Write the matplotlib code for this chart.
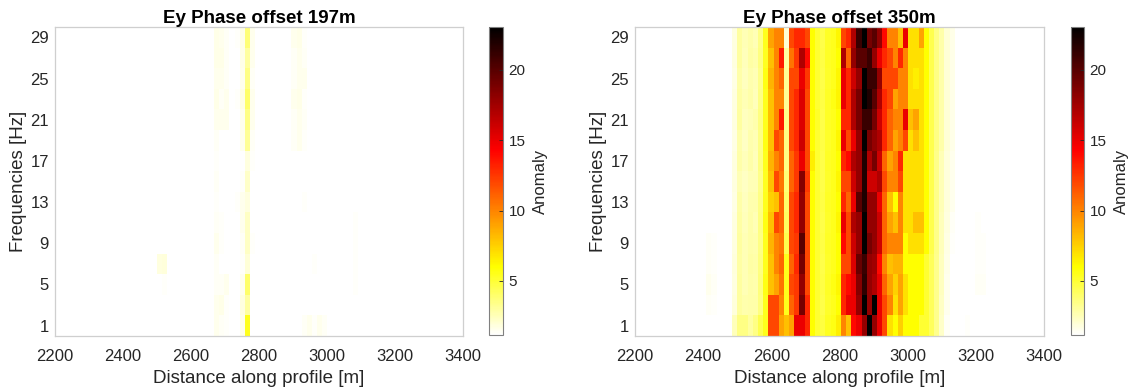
import numpy as np
import matplotlib
matplotlib.use('Agg')
import matplotlib.pyplot as plt
from matplotlib.colors import LinearSegmentedColormap

plt.rcParams['font.family'] = ['Liberation Sans', 'DejaVu Sans']

# profile stations (80 columns along the profile) and frequency rows
n_stations = 80
first_station, last_station = 2204, 3404
freqs = [29, 27, 25, 23, 21, 19, 17, 15, 13, 11, 9, 7, 5, 3, 1]
background = 1.0
vmin, vmax = 1.15, 23.05

# ---- offset 350 m : block of columns 19..61, rows listed top (29 Hz) to bottom (1 Hz)
right_first_col = 19
right_block = [
    # 29 Hz
    [1.8, 3.0, 2.6, 2.8, 2.6, 3.5, 5.5, 9, 10, 10, 2.0, 12, 13, 13, 12, 6, 5.0, 4.6, 5.3, 5.5, 6.2,
     12, 13, 17, 21, 23, 19, 20, 18, 14, 10, 10, 8, 15, 7, 7, 9, 6, 4.5, 3.5, 2.8, 2.0, 1.6],
    # 27
    [1.8, 3.0, 2.5, 2.9, 2.7, 3.6, 5.4, 8, 10, 13.5, 3.0, 10.5, 12.5, 17, 14, 6, 5.0, 4.7, 5.3, 5.5, 6.0,
     17, 11, 18, 20, 20, 21, 18, 15, 13, 12, 10, 13, 10, 7, 7, 7, 6, 4.5, 3.5, 2.8, 2.0, 1.6],
    # 25
    [1.7, 2.8, 2.4, 2.7, 2.6, 3.4, 5.6, 8.5, 10, 11, 3.2, 12, 12, 15, 12.5, 6, 5.0, 4.6, 5.2, 5.5, 6.2,
     15, 13, 16, 18, 23, 21, 21, 18, 12, 12, 12, 10, 10, 7, 6.5, 7, 6, 4.5, 3.5, 2.8, 2.0, 1.6],
    # 23
    [1.8, 2.9, 2.6, 2.8, 2.5, 3.5, 5.5, 8, 10, 10, 3.2, 12, 13, 15.5, 12, 6, 5.0, 4.7, 5.3, 5.6, 6.3,
     15, 13, 17, 19, 23, 22, 20, 17, 13, 12, 9, 10, 10, 7, 7, 7, 6, 4.5, 3.5, 2.8, 2.0, 1.6],
    # 21
    [1.8, 3.0, 2.4, 2.6, 2.7, 3.6, 5.5, 8, 10, 13.5, 3.3, 12, 13, 15.5, 12, 6, 5.2, 4.6, 5.3, 5.5, 6.0,
     13, 13, 17, 19, 21, 21, 19, 16, 13, 11, 10, 10, 15, 8, 9, 7, 6, 4.5, 3.5, 2.8, 2.0, 1.6],
    # 19
    [1.7, 2.7, 2.3, 2.7, 2.6, 3.5, 5.6, 8, 12, 11, 3.5, 12, 13, 16, 12, 6, 5.0, 4.7, 5.2, 5.5, 6.2,
     15, 12, 15, 18, 23, 19, 18, 17, 13, 11, 9, 10, 12, 7, 8, 7, 6, 4.5, 3.5, 2.8, 2.0, 1.6],
    # 17
    [1.8, 2.8, 2.5, 2.8, 2.5, 3.6, 5.5, 8.5, 10, 11, 3.5, 11, 12.5, 15, 12, 6.5, 5.0, 4.6, 5.3, 5.5, 6.0,
     13, 14, 17, 18, 22, 17, 19, 16, 11, 9, 10, 13, 7, 7, 7, 7, 6, 4.5, 3.4, 2.6, 1.9, 1.5],
    # 15
    [1.8, 2.6, 2.3, 2.6, 2.6, 3.4, 5.4, 8, 12, 10.5, 3.8, 11, 12.5, 18.5, 12.5, 6, 5.0, 4.6, 5.2, 5.5, 6.2,
     12, 12, 16, 18, 22, 16, 16, 17, 12, 10, 10, 12, 7, 7, 7, 7, 6, 4.5, 3.4, 2.6, 1.9, 1.5],
    # 13
    [1.7, 2.8, 2.4, 2.7, 2.7, 3.5, 5.5, 7.5, 8, 11, 4.0, 12, 13, 18, 12, 6, 5.0, 4.7, 5.3, 5.5, 6.0,
     13, 11, 15, 20, 22, 18, 18, 15, 11, 8, 6, 10, 7, 7, 7, 7, 6, 4.5, 3.4, 2.6, 1.9, 1.5],
    # 11
    [1.8, 2.9, 2.5, 2.8, 2.6, 3.6, 5.6, 8, 12, 11, 4.2, 12, 13, 18, 12, 6, 5.0, 4.6, 5.2, 5.5, 6.2,
     15, 12, 17, 18, 23, 18, 18, 16, 11, 9, 8, 10, 7, 7, 8, 8, 6, 4.5, 3.4, 2.5, 1.8, 1.4],
    # 9
    [1.8, 3.0, 2.6, 2.8, 2.7, 3.5, 5.5, 8.5, 10, 10.5, 4.5, 12, 12.5, 20, 12, 6, 5.0, 4.7, 5.3, 5.5, 6.0,
     14, 12, 16, 18, 23, 19, 18, 16, 11, 10, 10, 10, 6, 7, 7, 7, 6, 4.5, 3.4, 2.5, 1.7, 1.3],
    # 7
    [1.9, 2.9, 2.6, 2.9, 2.8, 3.6, 5.5, 8, 10, 11, 5.5, 11, 13, 19, 12, 6, 5.0, 4.6, 5.2, 5.5, 6.0,
     12, 12, 15.5, 19.5, 21, 18, 17.5, 14, 10, 8, 8.5, 8.5, 6, 6, 6, 6, 5, 4.3, 3.3, 2.4, 1.6, 1.2],
    # 5
    [1.8, 3.0, 2.6, 2.8, 2.7, 3.7, 5.6, 8, 9, 10.5, 5.5, 12, 12.5, 18, 12, 6, 5.0, 4.7, 5.3, 5.6, 6.2,
     13, 14, 15, 18.5, 21.5, 18, 17, 15, 11, 9, 7.5, 9, 7, 6, 6, 6, 5, 4.3, 3.3, 2.4, 1.5, 1.2],
    # 3
    [1.9, 3.0, 2.7, 2.8, 2.8, 3.6, 5.5, 12, 12, 10, 5.5, 11, 12.5, 19, 13, 6, 5.0, 4.6, 5.2, 5.5, 6.0,
     13, 15, 15, 18, 23, 18, 23, 15, 12, 10, 7, 9, 7, 6, 6, 6, 5, 4.3, 3.3, 2.3, 1.5, 1.1],
    # 1
    [2.5, 3.5, 3.5, 3.0, 3.5, 4.5, 5.5, 12, 12, 9, 8.0, 9, 15, 15, 13, 6, 5.0, 4.8, 5.4, 5.6, 6.5,
     10, 8, 14, 15, 18, 23, 18, 15, 12, 7, 6, 7.5, 6, 6, 6, 5, 5, 4.3, 3.3, 2.2, 1.4, 1.1],
]
# isolated faint cells for offset 350 m: column, row (0 = 29 Hz), value
right_faint_cols = [14, 14, 14, 14, 15, 15, 15, 15, 64, 66, 66, 66, 66, 67, 67, 67]
right_faint_rows = [10, 11, 12, 13, 10, 11, 12, 13, 14, 9, 10, 11, 12, 10, 11, 12]
right_faint_vals = [1.4, 1.4, 1.5, 1.4, 1.3, 1.3, 1.4, 1.3, 1.3, 1.25, 1.3, 1.3, 1.4, 1.25, 1.3, 1.4]

# ---- offset 197 m : block of columns 30..52
left_first_col = 30
left_block = [
    [1.0, 1.6, 1.5, 1.4, 1.1, 1.3, 1.6, 3.8, 1.5, 1.0, 1.0, 1.0, 1.0, 1.0, 1.0, 1.0, 1.5, 1.6, 1.3, 1.0, 1.0, 1.0, 1.0],
    [1.0, 1.6, 1.6, 1.4, 1.1, 1.1, 1.6, 3.0, 1.5, 1.0, 1.0, 1.0, 1.0, 1.0, 1.0, 1.0, 1.4, 1.5, 1.4, 1.2, 1.0, 1.0, 1.0],
    [1.0, 1.5, 1.5, 1.4, 1.1, 1.1, 1.5, 3.5, 1.4, 1.0, 1.0, 1.0, 1.0, 1.0, 1.0, 1.0, 1.4, 1.5, 1.5, 1.2, 1.0, 1.0, 1.0],
    [1.0, 1.6, 1.4, 1.5, 1.1, 1.3, 1.7, 4.0, 1.5, 1.0, 1.0, 1.0, 1.0, 1.0, 1.0, 1.0, 1.5, 1.6, 1.3, 1.0, 1.0, 1.0, 1.0],
    [1.0, 1.5, 1.5, 1.5, 1.1, 1.1, 1.5, 3.5, 1.5, 1.0, 1.0, 1.0, 1.0, 1.0, 1.0, 1.0, 1.4, 1.5, 1.4, 1.0, 1.0, 1.0, 1.0],
    [1.0, 1.4, 1.2, 1.2, 1.1, 1.1, 1.5, 3.2, 1.4, 1.0, 1.0, 1.0, 1.0, 1.0, 1.0, 1.0, 1.4, 1.5, 1.3, 1.0, 1.0, 1.0, 1.0],
    [1.0, 1.3, 1.2, 1.1, 1.1, 1.1, 1.2, 1.8, 1.3, 1.0, 1.0, 1.0, 1.0, 1.0, 1.0, 1.0, 1.0, 1.0, 1.0, 1.0, 1.0, 1.0, 1.0],
    [1.0, 1.4, 1.2, 1.2, 1.1, 1.1, 1.3, 2.2, 1.2, 1.0, 1.0, 1.0, 1.0, 1.0, 1.0, 1.0, 1.0, 1.0, 1.0, 1.0, 1.0, 1.0, 1.0],
    [1.0, 1.3, 1.2, 1.1, 1.1, 1.3, 1.5, 1.8, 1.1, 1.0, 1.0, 1.0, 1.0, 1.0, 1.0, 1.0, 1.0, 1.2, 1.3, 1.0, 1.0, 1.0, 1.0],
    [1.0, 1.4, 1.3, 1.2, 1.1, 1.1, 1.5, 2.3, 1.1, 1.0, 1.0, 1.0, 1.0, 1.0, 1.0, 1.0, 1.0, 1.0, 1.0, 1.0, 1.0, 1.0, 1.0],
    [1.0, 1.5, 1.3, 1.2, 1.1, 1.1, 1.4, 2.3, 1.3, 1.0, 1.0, 1.0, 1.0, 1.0, 1.0, 1.0, 1.0, 1.0, 1.0, 1.0, 1.0, 1.0, 1.0],
    [1.0, 1.4, 1.2, 1.2, 1.1, 1.1, 1.3, 2.0, 1.1, 1.0, 1.0, 1.0, 1.0, 1.0, 1.0, 1.0, 1.0, 1.0, 1.0, 1.0, 1.3, 1.0, 1.0],
    [1.0, 1.4, 1.4, 1.5, 1.1, 1.1, 1.5, 4.0, 1.2, 1.0, 1.0, 1.0, 1.0, 1.0, 1.0, 1.0, 1.0, 1.0, 1.0, 1.0, 1.0, 1.0, 1.0],
    [1.0, 1.5, 1.6, 1.3, 1.1, 1.2, 1.8, 3.0, 1.2, 1.0, 1.0, 1.0, 1.0, 1.0, 1.0, 1.0, 1.0, 1.0, 1.0, 1.0, 1.0, 1.0, 1.0],
    [1.0, 1.5, 1.4, 1.3, 1.1, 1.2, 1.6, 5.5, 1.2, 1.0, 1.0, 1.0, 1.0, 1.0, 1.0, 1.0, 1.0, 1.0, 1.4, 1.5, 1.3, 1.5, 1.4],
]
left_faint_cols = [20, 21, 21, 58, 58, 58, 58]
left_faint_rows = [11, 11, 12, 9, 10, 11, 12]
left_faint_vals = [1.8, 1.9, 1.3, 1.25, 1.25, 1.3, 1.25]

titles = ['Ey Phase offset 197m', 'Ey Phase offset 350m']
x_ticks = [2200, 2400, 2600, 2800, 3000, 3200, 3400]
y_ticks = [1, 5, 9, 13, 17, 21, 25, 29]
cbar_ticks = [5, 10, 15, 20]


def build_grid(first_col, block, f_cols, f_rows, f_vals):
    grid = np.full((len(freqs), n_stations), background)
    block = np.array(block, dtype=float)
    grid[:, first_col:first_col + block.shape[1]] = block
    for c, r, v in zip(f_cols, f_rows, f_vals):
        grid[r, c] = v
    return grid


# white -> yellow -> red -> black, like a flipped "hot"
cmap = LinearSegmentedColormap.from_list(
    'hot_flip', [(0.0, '#ffffff'), (0.22, '#ffff00'), (0.60, '#ff0000'), (1.0, '#000000')])

grids = [
    build_grid(left_first_col, left_block, left_faint_cols, left_faint_rows, left_faint_vals),
    build_grid(right_first_col, right_block, right_faint_cols, right_faint_rows, right_faint_vals),
]
stations = np.linspace(first_station, last_station, n_stations)

W, H = 1132, 390
fig = plt.figure(figsize=(W / 100, H / 100), dpi=100)
ax_boxes = [(55, 27, 463, 336), (635, 27, 1044, 336)]
cb_boxes = [(489, 27, 503, 335), (1071, 27, 1084, 335)]
text_color = '#262626'

for i in range(2):
    x0, y0, x1, y1 = ax_boxes[i]
    ax = fig.add_axes([x0 / W, 1 - y1 / H, (x1 - x0) / W, (y1 - y0) / H])
    mesh = ax.pcolormesh(stations, freqs, grids[i], cmap=cmap, vmin=vmin, vmax=vmax,
                         shading='nearest')
    ax.set_xlim(2200, 3400)
    ax.set_ylim(0, 30)
    ax.set_xticks(x_ticks)
    ax.set_yticks(y_ticks)
    ax.tick_params(length=0, labelsize=12, colors=text_color)
    ax.tick_params(axis='x', pad=9.5)
    ax.tick_params(axis='y', pad=4.5)
    for s in ax.spines.values():
        s.set_color('#cfcfcf')
        s.set_linewidth(0.9)
    ax.set_xlabel('Distance along profile [m]', fontsize=13.5, color=text_color, labelpad=4)
    ax.set_ylabel('Frequencies [Hz]', fontsize=13.5, color=text_color, labelpad=2)
    ax.set_title(titles[i], fontsize=13.5, fontweight='bold', color='black', pad=3)

    cx0, cy0, cx1, cy1 = cb_boxes[i]
    cax = fig.add_axes([cx0 / W, 1 - cy1 / H, (cx1 - cx0) / W, (cy1 - cy0) / H])
    cb = fig.colorbar(mesh, cax=cax, ticks=cbar_ticks)
    cb.outline.set_edgecolor('#808080')
    cb.outline.set_linewidth(0.8)
    cax.tick_params(direction='in', length=3, width=0.6, labelsize=11, colors=text_color, pad=4)
    cb.set_label('Anomaly', fontsize=12, color=text_color, labelpad=5)

fig.savefig('out.png', dpi=100)
